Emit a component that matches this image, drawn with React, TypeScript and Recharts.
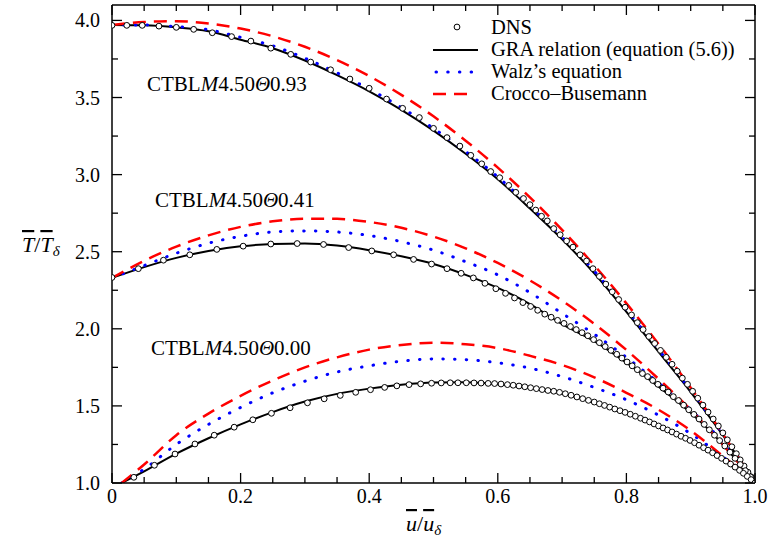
import { ComposedChart, Line, Scatter, XAxis, YAxis } from 'recharts';

// velocity grid for the model curves
const U_GRID = [0, 0.05, 0.1, 0.15, 0.2, 0.25, 0.3, 0.35, 0.4, 0.45, 0.5, 0.55, 0.6, 0.65, 0.7, 0.75, 0.8, 0.85, 0.9, 0.95, 1.0];
const U_GRID_COLD = [0.015, 0.05, 0.1, 0.15, 0.2, 0.25, 0.3, 0.35, 0.4, 0.45, 0.5, 0.55, 0.6, 0.65, 0.7, 0.75, 0.8, 0.85, 0.9, 0.95, 1.0];

// CTBL M4.50 Theta0.93
const GRA_093 = [3.97, 3.968, 3.955, 3.93, 3.875, 3.82, 3.74, 3.645, 3.54, 3.42, 3.285, 3.135, 2.97, 2.78, 2.58, 2.36, 2.11, 1.85, 1.59, 1.31, 1.0];
const WALZ_093 = [3.97, 3.97, 3.96, 3.94, 3.89, 3.835, 3.755, 3.66, 3.555, 3.435, 3.3, 3.15, 2.985, 2.795, 2.595, 2.375, 2.125, 1.865, 1.6, 1.315, 1.0];
const CB_093 = [3.97, 3.99, 3.995, 3.98, 3.947, 3.897, 3.829, 3.743, 3.639, 3.517, 3.378, 3.22, 3.045, 2.852, 2.641, 2.412, 2.165, 1.901, 1.618, 1.318, 1.0];

// CTBL M4.50 Theta0.41
const GRA_041 = [2.33, 2.4, 2.46, 2.505, 2.535, 2.55, 2.553, 2.54, 2.51, 2.47, 2.42, 2.35, 2.265, 2.16, 2.03, 1.92, 1.78, 1.625, 1.455, 1.25, 1.0];
const WALZ_041 = [2.33, 2.41, 2.49, 2.555, 2.6, 2.628, 2.635, 2.628, 2.605, 2.565, 2.51, 2.435, 2.35, 2.235, 2.1, 1.965, 1.815, 1.65, 1.475, 1.265, 1.0];
const CB_041 = [2.33, 2.441, 2.533, 2.606, 2.661, 2.697, 2.714, 2.713, 2.693, 2.655, 2.598, 2.522, 2.427, 2.314, 2.182, 2.032, 1.863, 1.675, 1.475, 1.248, 1.0];

// CTBL M4.50 Theta0.00
const GRA_000 = [1.0, 1.075, 1.19, 1.29, 1.38, 1.46, 1.528, 1.578, 1.612, 1.637, 1.651, 1.653, 1.64, 1.615, 1.58, 1.52, 1.45, 1.365, 1.27, 1.15, 1.0];
const WALZ_000 = [1.0, 1.09, 1.25, 1.38, 1.49, 1.585, 1.66, 1.72, 1.76, 1.79, 1.805, 1.8, 1.78, 1.745, 1.69, 1.62, 1.54, 1.44, 1.32, 1.17, 1.0];
const CB_000 = [1.0, 1.12, 1.31, 1.45, 1.565, 1.665, 1.75, 1.815, 1.865, 1.895, 1.91, 1.9, 1.875, 1.825, 1.765, 1.685, 1.585, 1.475, 1.34, 1.175, 1.0];

// DNS samples
const DNS_093_U = [0, 0.023, 0.047, 0.073, 0.1, 0.127, 0.156, 0.186, 0.216, 0.247, 0.278, 0.309, 0.34, 0.37, 0.4, 0.427, 0.452, 0.478, 0.5, 0.521, 0.541, 0.558, 0.575, 0.589, 0.603, 0.617, 0.628, 0.64, 0.65, 0.659, 0.668, 0.677, 0.687, 0.697, 0.707, 0.717, 0.728, 0.738, 0.748, 0.758, 0.768, 0.778, 0.788, 0.798, 0.808, 0.817, 0.826, 0.835, 0.844, 0.853, 0.862, 0.871, 0.879, 0.887, 0.895, 0.903, 0.911, 0.919, 0.927, 0.935, 0.943, 0.95, 0.957, 0.964, 0.971, 0.977, 0.983, 0.989, 0.994, 1.0];
const DNS_093_T = [3.968, 3.968, 3.968, 3.963, 3.955, 3.942, 3.92, 3.895, 3.866, 3.82, 3.78, 3.73, 3.68, 3.62, 3.56, 3.49, 3.43, 3.37, 3.3, 3.24, 3.185, 3.125, 3.07, 3.02, 2.98, 2.93, 2.885, 2.845, 2.805, 2.77, 2.73, 2.7, 2.65, 2.61, 2.57, 2.53, 2.48, 2.44, 2.39, 2.34, 2.29, 2.24, 2.19, 2.14, 2.09, 2.04, 1.995, 1.95, 1.905, 1.86, 1.815, 1.77, 1.725, 1.68, 1.64, 1.595, 1.55, 1.505, 1.46, 1.415, 1.37, 1.325, 1.28, 1.235, 1.19, 1.15, 1.11, 1.07, 1.04, 1.0];

const DNS_041_U = [0, 0.041, 0.08, 0.121, 0.163, 0.204, 0.247, 0.288, 0.329, 0.368, 0.404, 0.438, 0.469, 0.497, 0.521, 0.543, 0.562, 0.58, 0.597, 0.612, 0.626, 0.639, 0.651, 0.662, 0.673, 0.683, 0.693, 0.703, 0.713, 0.722, 0.731, 0.74, 0.749, 0.758, 0.767, 0.776, 0.785, 0.793, 0.801, 0.809, 0.817, 0.825, 0.833, 0.841, 0.849, 0.857, 0.865, 0.873, 0.881, 0.889, 0.897, 0.905, 0.913, 0.921, 0.929, 0.937, 0.945, 0.953, 0.961, 0.969, 0.977, 0.985, 0.993, 1.0];
const DNS_041_T = [2.333, 2.39, 2.445, 2.48, 2.515, 2.536, 2.55, 2.553, 2.547, 2.527, 2.505, 2.48, 2.45, 2.42, 2.39, 2.36, 2.33, 2.295, 2.26, 2.23, 2.2, 2.17, 2.145, 2.12, 2.095, 2.075, 2.055, 2.035, 2.015, 1.995, 1.975, 1.955, 1.93, 1.91, 1.885, 1.86, 1.835, 1.81, 1.785, 1.76, 1.735, 1.71, 1.69, 1.665, 1.64, 1.615, 1.59, 1.56, 1.535, 1.505, 1.475, 1.445, 1.415, 1.38, 1.345, 1.31, 1.275, 1.24, 1.2, 1.16, 1.12, 1.08, 1.04, 1.0];

const DNS_000_U = [0.034, 0.066, 0.098, 0.129, 0.159, 0.19, 0.219, 0.248, 0.277, 0.304, 0.33, 0.355, 0.379, 0.402, 0.424, 0.443, 0.462, 0.48, 0.497, 0.512, 0.526, 0.538, 0.551, 0.563, 0.574, 0.585, 0.595, 0.605, 0.615, 0.624, 0.633, 0.642, 0.651, 0.66, 0.669, 0.678, 0.687, 0.696, 0.705, 0.714, 0.723, 0.732, 0.741, 0.75, 0.758, 0.766, 0.774, 0.782, 0.79, 0.798, 0.806, 0.814, 0.822, 0.829, 0.836, 0.843, 0.85, 0.857, 0.864, 0.871, 0.878, 0.885, 0.892, 0.899, 0.906, 0.913, 0.92, 0.927, 0.934, 0.941, 0.948, 0.955, 0.962, 0.969, 0.976, 0.982, 0.988, 0.994, 1.0];
const DNS_000_T = [1.037, 1.115, 1.188, 1.253, 1.31, 1.362, 1.41, 1.452, 1.488, 1.52, 1.546, 1.568, 1.588, 1.605, 1.62, 1.63, 1.638, 1.643, 1.647, 1.649, 1.65, 1.65, 1.65, 1.649, 1.648, 1.646, 1.645, 1.642, 1.638, 1.634, 1.629, 1.624, 1.618, 1.612, 1.606, 1.6, 1.595, 1.588, 1.579, 1.569, 1.558, 1.547, 1.536, 1.525, 1.514, 1.503, 1.492, 1.48, 1.469, 1.458, 1.446, 1.433, 1.42, 1.408, 1.396, 1.383, 1.37, 1.357, 1.344, 1.331, 1.317, 1.303, 1.29, 1.276, 1.261, 1.245, 1.229, 1.213, 1.196, 1.178, 1.16, 1.142, 1.123, 1.103, 1.082, 1.063, 1.043, 1.022, 1.0];

// axis ticks
const X_TICKS = [0, 0.05, 0.1, 0.15, 0.2, 0.25, 0.3, 0.35, 0.4, 0.45, 0.5, 0.55, 0.6, 0.65, 0.7, 0.75, 0.8, 0.85, 0.9, 0.95, 1.0];
const Y_TICKS = [1.0, 1.25, 1.5, 1.75, 2.0, 2.25, 2.5, 2.75, 3.0, 3.25, 3.5, 3.75, 4.0];

const FONT = "'Liberation Serif', 'Times New Roman', Times, serif";
const AXIS = { stroke: '#000', strokeWidth: 1.5 };

const pts = (us: number[], ts: number[]) => us.map((u, i) => ({ u, T: ts[i] }));
const isMajor = (v: number, step: number) => Math.abs(v / step - Math.round(v / step)) < 1e-6;
const fmtX = (v: number) => (v === 0 ? '0' : v.toFixed(1));
const txt = (size: number) => ({ fontFamily: FONT, fontSize: size, fill: '#000' });

function BottomTick({ x, y, payload }: any) {
  const major = isMajor(payload.value, 0.2);
  return (
    <g>
      <line x1={x} y1={y} x2={x} y2={y - (major ? 10 : 6)} stroke="#000" strokeWidth={1.3} />
      {major && (
        <text x={x} y={y + 20} textAnchor="middle" style={txt(20)}>
          {fmtX(payload.value)}
        </text>
      )}
    </g>
  );
}

function TopTick({ x, y, payload }: any) {
  const major = isMajor(payload.value, 0.2);
  return <line x1={x} y1={y} x2={x} y2={y + (major ? 10 : 6)} stroke="#000" strokeWidth={1.3} />;
}

function LeftTick({ x, y, payload }: any) {
  const major = isMajor(payload.value, 0.5);
  return (
    <g>
      <line x1={x} y1={y} x2={x + (major ? 10 : 6)} y2={y} stroke="#000" strokeWidth={1.3} />
      {major && (
        <text x={x - 12} y={y + 7} textAnchor="end" style={txt(20)}>
          {payload.value.toFixed(1)}
        </text>
      )}
    </g>
  );
}

function RightTick({ x, y, payload }: any) {
  const major = isMajor(payload.value, 0.5);
  return <line x1={x} y1={y} x2={x - (major ? 10 : 6)} y2={y} stroke="#000" strokeWidth={1.3} />;
}

const circle = (p: any) => <circle cx={p.cx} cy={p.cy} r={2.9} fill="#fff" stroke="#000" strokeWidth={1} />;

const GRA_STYLE = { stroke: '#000', strokeWidth: 2 };
const WALZ_STYLE = { stroke: '#0000ff', strokeWidth: 3, strokeDasharray: '0.5 11.2', strokeLinecap: 'round' as const };
const CB_STYLE = { stroke: '#ff0000', strokeWidth: 2.5, strokeDasharray: '13 8' };

const CASES = [
  { name: '093', u: U_GRID, gra: GRA_093, walz: WALZ_093, cb: CB_093, du: DNS_093_U, dt: DNS_093_T },
  { name: '041', u: U_GRID, gra: GRA_041, walz: WALZ_041, cb: CB_041, du: DNS_041_U, dt: DNS_041_T },
  { name: '000', u: U_GRID_COLD, gra: GRA_000, walz: WALZ_000, cb: CB_000, du: DNS_000_U, dt: DNS_000_T },
];

function CaseLabel({ x, y, theta }: { x: number; y: number; theta: string }) {
  return (
    <text x={x} y={y} style={txt(21)}>
      CTBL<tspan fontStyle="italic">M</tspan>4.50<tspan fontStyle="italic">Θ</tspan>{theta}
    </text>
  );
}

export default function App() {
  return (
    <div style={{ position: 'absolute', left: 0, top: 0, width: 769, height: 546, background: '#fff' }}>
      <ComposedChart width={769} height={546} margin={{ top: 4, right: 13, bottom: 62, left: 111 }}>
        <XAxis dataKey="u" type="number" domain={[0, 1]} ticks={X_TICKS} interval={0} height={1}
          tickSize={0} tickMargin={0} tickLine={false} tick={BottomTick} axisLine={AXIS} allowDataOverflow />
        <XAxis xAxisId="top" orientation="top" dataKey="u" type="number" domain={[0, 1]} ticks={X_TICKS} interval={0}
          height={1} tickSize={0} tickMargin={0} tickLine={false} tick={TopTick} axisLine={AXIS} allowDataOverflow />
        <YAxis type="number" domain={[1, 4.1]} ticks={Y_TICKS} interval={0} width={1}
          tickSize={0} tickMargin={0} tickLine={false} tick={LeftTick} axisLine={AXIS} allowDataOverflow />
        <YAxis yAxisId="right" orientation="right" type="number" domain={[1, 4.1]} ticks={Y_TICKS} interval={0} width={1}
          tickSize={0} tickMargin={0} tickLine={false} tick={RightTick} axisLine={AXIS} allowDataOverflow />

        {CASES.map(c => (
          <Line key={'gra' + c.name} data={pts(c.u, c.gra)} dataKey="T" type="monotone" dot={false}
            {...GRA_STYLE} isAnimationActive={false} />
        ))}
        {CASES.map(c => (
          <Scatter key={'dns' + c.name} data={pts(c.du, c.dt)} dataKey="T" shape={circle} isAnimationActive={false} />
        ))}
        {CASES.map(c => (
          <Line key={'walz' + c.name} data={pts(c.u, c.walz)} dataKey="T" type="monotone" dot={false}
            {...WALZ_STYLE} isAnimationActive={false} />
        ))}
        {CASES.map(c => (
          <Line key={'cb' + c.name} data={pts(c.u, c.cb)} dataKey="T" type="monotone" dot={false}
            {...CB_STYLE} isAnimationActive={false} />
        ))}
      </ComposedChart>

      <svg width={769} height={546} style={{ position: 'absolute', left: 0, top: 0, pointerEvents: 'none' }}>
        <CaseLabel x={147} y={91} theta="0.93" />
        <CaseLabel x={155} y={207} theta="0.41" />
        <CaseLabel x={151} y={355} theta="0.00" />

        {/* legend */}
        <circle cx={457} cy={27} r={2.9} fill="#fff" stroke="#000" strokeWidth={1} />
        <line x1={433} y1={50} x2={478} y2={50} {...GRA_STYLE} />
        <line x1={436} y1={72} x2={476} y2={72} {...WALZ_STYLE} />
        <line x1={433} y1={94} x2={475} y2={94} {...CB_STYLE} />
        <text x={491} y={34} style={txt(20.5)}>DNS</text>
        <text x={491} y={56} style={txt(20.5)}>GRA relation (equation (5.6))</text>
        <text x={491} y={78} style={txt(20.5)}>Walz’s equation</text>
        <text x={491} y={100} style={txt(20.5)}>Crocco–Busemann</text>

        {/* axis titles */}
        <text x={22} y={252} style={txt(22)}>
          <tspan fontStyle="italic" style={{ textDecoration: 'overline' }}>T</tspan>
          <tspan>/</tspan>
          <tspan fontStyle="italic" style={{ textDecoration: 'overline' }}>T</tspan>
          <tspan fontStyle="italic" fontSize={15} dy={4}>δ</tspan>
        </text>
        <text x={406} y={531} style={txt(22)}>
          <tspan fontStyle="italic" style={{ textDecoration: 'overline' }}>u</tspan>
          <tspan>/</tspan>
          <tspan fontStyle="italic" style={{ textDecoration: 'overline' }}>u</tspan>
          <tspan fontStyle="italic" fontSize={15} dy={4}>δ</tspan>
        </text>
      </svg>
    </div>
  );
}
